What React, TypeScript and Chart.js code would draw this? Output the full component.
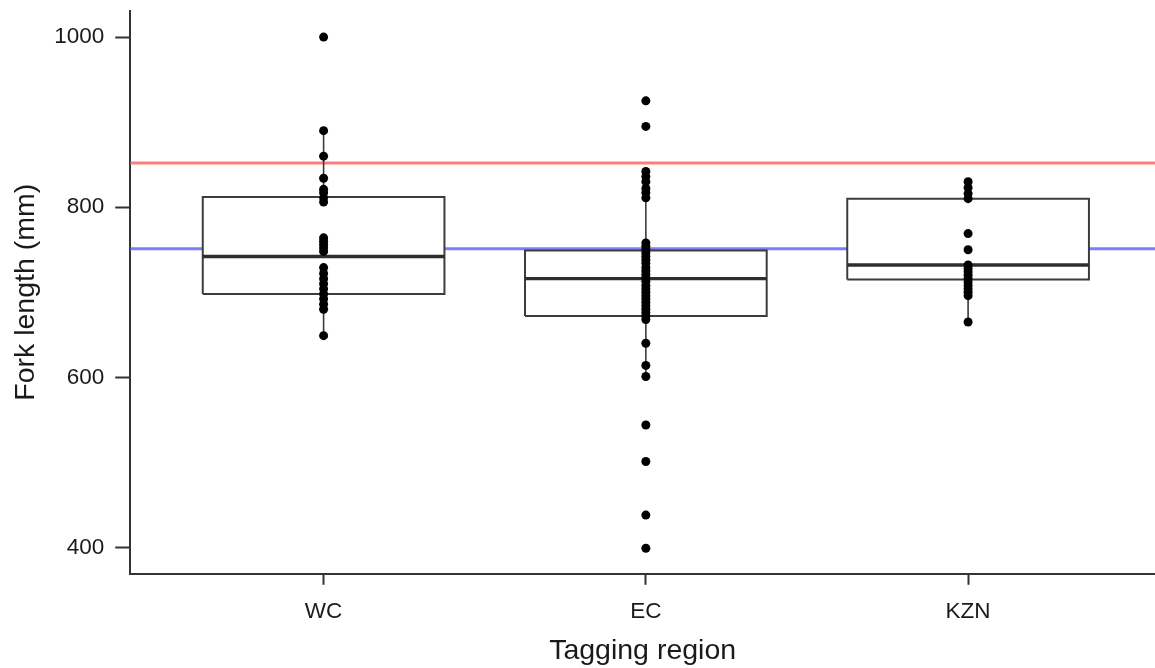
import { useEffect, useRef } from "react";
import { Chart, registerables } from "chart.js";

Chart.register(...registerables);

// Tagging regions along the x axis
const CATEGORIES = ["WC", "EC", "KZN"];
const Y_TICKS = [400, 600, 800, 1000];

// Box-plot summaries per region (mm)
const LOWER_WHISKER = [649, 601, 665];
const Q1 = [698, 672, 715];
const MEDIAN = [742, 716, 732];
const Q3 = [812, 749, 810];
const UPPER_WHISKER = [890, 842, 830];

// Individual fork lengths per region (mm)
const WC_LENGTHS = [
  1000, 890, 860, 834, 821, 817, 811, 806, 764, 760, 756, 752, 748, 729, 722,
  716, 710, 704, 698, 692, 686, 680, 649,
];
const EC_LENGTHS = [
  925, 895, 842, 836, 830, 822, 817, 811, 758, 754, 750, 746, 742, 738, 734,
  729, 725, 721, 717, 713, 708, 704, 700, 696, 692, 688, 684, 680, 676, 672,
  668, 640, 614, 601, 544, 501, 438, 399,
];
const KZN_LENGTHS = [
  830, 823, 816, 810, 769, 750, 732, 728, 724, 720, 716, 712, 708, 704, 700,
  696, 665,
];
const GROUP_LENGTHS = [WC_LENGTHS, EC_LENGTHS, KZN_LENGTHS];

// Horizontal reference lengths (mm)
const RED_LINE = 852;
const BLUE_LINE = 751;

const BOX_HALF_WIDTH = 0.375;
const X_MIN = 0.4;
const X_MAX = 3.58;
const Y_MIN = 369;
const Y_MAX = 1031;

const FONT_FAMILY = "'Liberation Sans', Arial, Helvetica, sans-serif";
const TEXT_COLOR = "#1a1a1a";
const AXIS_COLOR = "#333333";

export default function App() {
  const canvasRef = useRef<HTMLCanvasElement | null>(null);

  useEffect(() => {
    const canvas = canvasRef.current;
    if (!canvas) return;

    const refLine = (value: number, color: string, order: number) => ({
      data: [
        { x: X_MIN, y: value },
        { x: X_MAX, y: value },
      ],
      showLine: true,
      borderColor: color,
      borderWidth: 3,
      pointRadius: 0,
      fill: false,
      order,
    });

    const whiskers = CATEGORIES.map((_, i) => ({
      data: [
        { x: i + 1, y: LOWER_WHISKER[i] },
        { x: i + 1, y: UPPER_WHISKER[i] },
      ],
      showLine: true,
      borderColor: "#3c3c3c",
      borderWidth: 1.6,
      pointRadius: 0,
      fill: false,
      order: 4,
    }));

    const boxes = CATEGORIES.map((_, i) => {
      const c = i + 1;
      return {
        data: [
          { x: c - BOX_HALF_WIDTH, y: Q1[i] },
          { x: c + BOX_HALF_WIDTH, y: Q1[i] },
          { x: c + BOX_HALF_WIDTH, y: Q3[i] },
          { x: c - BOX_HALF_WIDTH, y: Q3[i] },
          { x: c - BOX_HALF_WIDTH, y: Q1[i] },
        ],
        showLine: true,
        fill: "shape",
        backgroundColor: "#ffffff",
        borderColor: "#3c3c3c",
        borderWidth: 2,
        borderJoinStyle: "miter",
        pointRadius: 0,
        order: 3,
      };
    });

    const medians = CATEGORIES.map((_, i) => ({
      data: [
        { x: i + 1 - BOX_HALF_WIDTH, y: MEDIAN[i] },
        { x: i + 1 + BOX_HALF_WIDTH, y: MEDIAN[i] },
      ],
      showLine: true,
      borderColor: "#2e2e2e",
      borderWidth: 3.4,
      pointRadius: 0,
      fill: false,
      order: 2,
    }));

    const points = GROUP_LENGTHS.map((lengths, i) => ({
      data: lengths.map((v) => ({ x: i + 1, y: v })),
      showLine: false,
      pointRadius: 4.5,
      pointBorderWidth: 0,
      pointBackgroundColor: "#000000",
      pointBorderColor: "#000000",
      order: 0,
    }));

    const chart = new Chart(canvas, {
      type: "scatter",
      data: {
        datasets: [
          ...points,
          ...medians,
          ...boxes,
          ...whiskers,
          refLine(RED_LINE, "rgba(255, 110, 110, 0.9)", 5),
          refLine(BLUE_LINE, "rgba(110, 110, 255, 0.9)", 6),
        ] as any,
      },
      options: {
        responsive: false,
        animation: false,
        events: [],
        layout: {
          autoPadding: false,
          padding: { left: 0, right: 0, top: 0, bottom: 0 },
        },
        plugins: {
          legend: { display: false },
          tooltip: { enabled: false },
        },
        scales: {
          x: {
            type: "linear",
            min: X_MIN,
            max: X_MAX,
            afterBuildTicks: (scale: any) => {
              scale.ticks = CATEGORIES.map((_, i) => ({ value: i + 1 }));
            },
            // tighter axis band so labels sit a little lower without moving the plot area
            afterFit: (scale: any) => {
              scale.height -= 4;
            },
            ticks: {
              callback: (_v: any, idx: number) => CATEGORIES[idx],
              font: { family: FONT_FAMILY, size: 22.5 },
              color: TEXT_COLOR,
              padding: 13,
              maxRotation: 0,
              autoSkip: false,
            },
            grid: {
              drawOnChartArea: false,
              drawTicks: true,
              tickLength: 11,
              tickColor: AXIS_COLOR,
              tickWidth: 2,
            },
            border: { display: true, color: AXIS_COLOR, width: 2 },
            title: {
              display: true,
              text: "Tagging region",
              font: { family: FONT_FAMILY, size: 28.5 },
              color: TEXT_COLOR,
              padding: { top: 0, bottom: 0 },
            },
          },
          y: {
            type: "linear",
            min: Y_MIN,
            max: Y_MAX,
            afterBuildTicks: (scale: any) => {
              scale.ticks = Y_TICKS.map((v) => ({ value: v }));
            },
            // keep the plot area close to the top edge of the canvas
            afterFit: (scale: any) => {
              scale.paddingTop = 10.7;
            },
            ticks: {
              callback: (v: any) => String(v),
              font: { family: FONT_FAMILY, size: 22.5 },
              color: TEXT_COLOR,
              padding: 11,
              autoSkip: false,
            },
            grid: {
              drawOnChartArea: false,
              drawTicks: true,
              tickLength: 15,
              tickColor: AXIS_COLOR,
              tickWidth: 2,
            },
            border: { display: true, color: AXIS_COLOR, width: 2 },
            title: {
              display: true,
              text: "Fork length (mm)",
              font: { family: FONT_FAMILY, size: 28.5 },
              color: TEXT_COLOR,
              padding: { top: 9, bottom: 0 },
            },
          },
        },
      } as any,
    });

    return () => chart.destroy();
  }, []);

  return (
    <div
      style={{
        position: "fixed",
        left: 0,
        top: 0,
        width: 1155,
        height: 668,
        background: "#ffffff",
      }}
    >
      <canvas ref={canvasRef} width={1155} height={668} />
    </div>
  );
}
